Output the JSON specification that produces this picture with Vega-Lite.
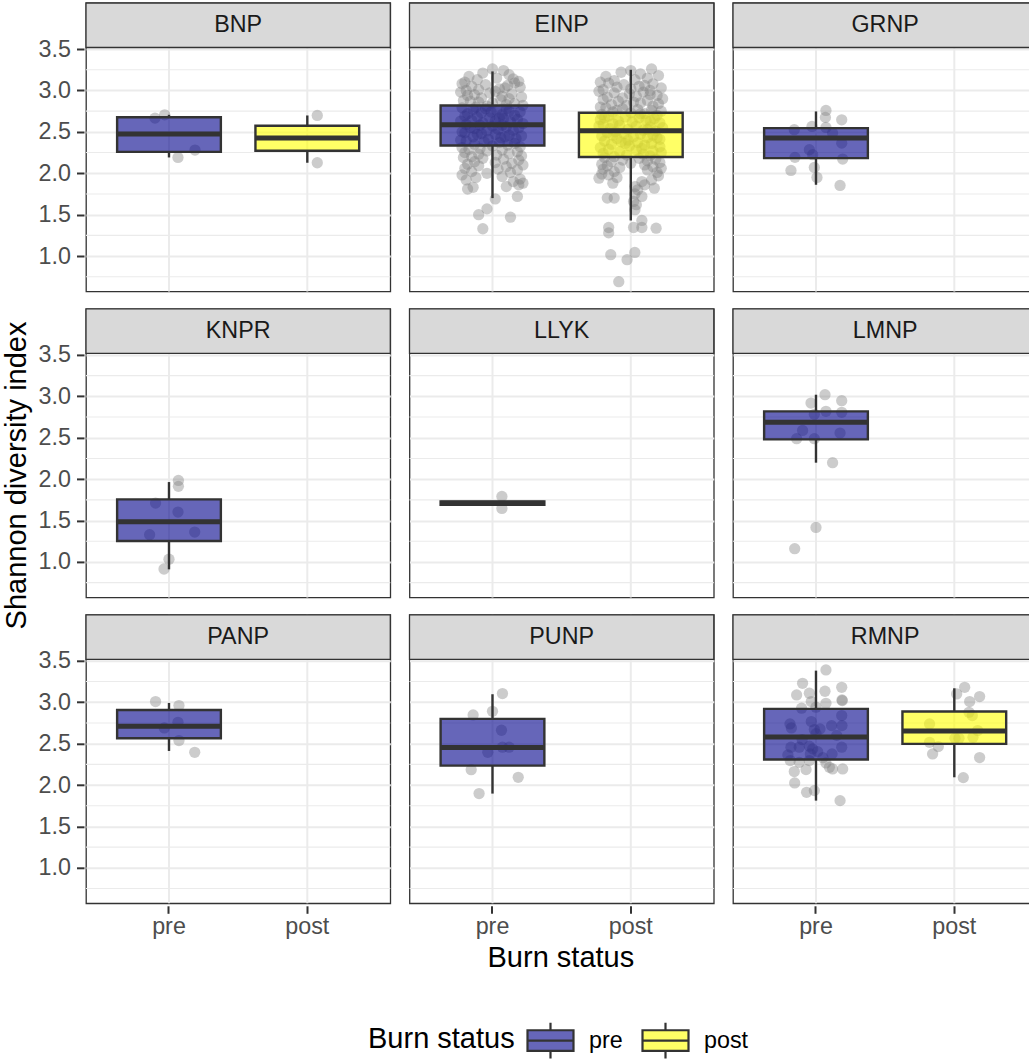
{
"$schema": "https://vega.github.io/schema/vega-lite/v6.json",
"background": "white",
"padding": {"left": 3, "top": 1, "right": 0, "bottom": 0},
"autosize": {"type": "pad"},
"config": {"font": "Liberation Sans"},
"data": {"values": [
{"p":"BNP","s":"pre","lo":2.191,"q1":2.258,"med":2.473,"q3":2.676,"hi":2.706},
{"p":"BNP","s":"post","lo":2.127,"q1":2.272,"med":2.425,"q3":2.574,"hi":2.698},
{"p":"EINP","s":"pre","lo":1.70,"q1":2.336,"med":2.586,"q3":2.819,"hi":3.23},
{"p":"EINP","s":"post","lo":1.43,"q1":2.196,"med":2.513,"q3":2.731,"hi":3.25},
{"p":"GRNP","s":"pre","lo":1.861,"q1":2.183,"med":2.425,"q3":2.545,"hi":2.747},
{"p":"KNPR","s":"pre","lo":0.911,"q1":1.253,"med":1.486,"q3":1.756,"hi":1.965},
{"p":"LLYK","s":"pre","lo":1.69,"q1":1.69,"med":1.71,"q3":1.73,"hi":1.73},
{"p":"LMNP","s":"pre","lo":2.199,"q1":2.481,"med":2.686,"q3":2.819,"hi":3.02},
{"p":"PANP","s":"pre","lo":2.412,"q1":2.565,"med":2.71,"q3":2.907,"hi":2.992},
{"p":"PUNP","s":"pre","lo":1.897,"q1":2.235,"med":2.453,"q3":2.799,"hi":3.097},
{"p":"RMNP","s":"pre","lo":1.812,"q1":2.308,"med":2.581,"q3":2.92,"hi":3.382},
{"p":"RMNP","s":"post","lo":2.094,"q1":2.497,"med":2.654,"q3":2.888,"hi":3.169},
{"p":"BNP","s":"pre","v":2.666,"j":-0.101},{"p":"BNP","s":"pre","v":2.706,"j":-0.031},{"p":"BNP","s":"pre","v":2.191,"j":0.065},{"p":"BNP","s":"pre","v":2.28,"j":0.188},
{"p":"BNP","s":"post","v":2.698,"j":0.072},{"p":"BNP","s":"post","v":2.127,"j":0.072},
{"p":"GRNP","s":"pre","v":2.759,"j":0.072},{"p":"GRNP","s":"pre","v":2.675,"j":0.068},{"p":"GRNP","s":"pre","v":2.646,"j":0.186},{"p":"GRNP","s":"pre","v":2.526,"j":-0.157},{"p":"GRNP","s":"pre","v":2.566,"j":-0.029},{"p":"GRNP","s":"pre","v":2.554,"j":0.072},{"p":"GRNP","s":"pre","v":2.485,"j":0.12},{"p":"GRNP","s":"pre","v":2.364,"j":0.186},{"p":"GRNP","s":"pre","v":2.284,"j":-0.048},{"p":"GRNP","s":"pre","v":2.224,"j":-0.024},{"p":"GRNP","s":"pre","v":2.192,"j":-0.152},{"p":"GRNP","s":"pre","v":2.172,"j":0.193},{"p":"GRNP","s":"pre","v":2.034,"j":-0.181},{"p":"GRNP","s":"pre","v":2.07,"j":-0.012},{"p":"GRNP","s":"pre","v":1.95,"j":0.007},{"p":"GRNP","s":"pre","v":1.853,"j":0.174},
{"p":"KNPR","s":"pre","v":1.985,"j":0.068},{"p":"KNPR","s":"pre","v":1.913,"j":0.068},{"p":"KNPR","s":"pre","v":1.712,"j":-0.097},{"p":"KNPR","s":"pre","v":1.603,"j":0.065},{"p":"KNPR","s":"pre","v":1.329,"j":-0.14},{"p":"KNPR","s":"pre","v":1.361,"j":0.186},{"p":"KNPR","s":"pre","v":1.034,"j":0.0},{"p":"KNPR","s":"pre","v":0.915,"j":-0.036},
{"p":"LLYK","s":"pre","v":1.792,"j":0.068},{"p":"LLYK","s":"pre","v":1.646,"j":0.068},
{"p":"LMNP","s":"pre","v":3.02,"j":0.065},{"p":"LMNP","s":"pre","v":2.919,"j":-0.036},{"p":"LMNP","s":"pre","v":2.948,"j":0.186},{"p":"LMNP","s":"pre","v":2.819,"j":0.072},{"p":"LMNP","s":"pre","v":2.807,"j":0.186},{"p":"LMNP","s":"pre","v":2.783,"j":-0.012},{"p":"LMNP","s":"pre","v":2.589,"j":-0.097},{"p":"LMNP","s":"pre","v":2.557,"j":0.174},{"p":"LMNP","s":"pre","v":2.489,"j":-0.14},{"p":"LMNP","s":"pre","v":2.489,"j":-0.012},{"p":"LMNP","s":"pre","v":2.199,"j":0.12},{"p":"LMNP","s":"pre","v":1.417,"j":0.0},{"p":"LMNP","s":"pre","v":1.16,"j":-0.154},
{"p":"PANP","s":"pre","v":3.008,"j":-0.097},{"p":"PANP","s":"pre","v":2.96,"j":0.072},{"p":"PANP","s":"pre","v":2.758,"j":0.065},{"p":"PANP","s":"pre","v":2.69,"j":-0.034},{"p":"PANP","s":"pre","v":2.537,"j":0.072},{"p":"PANP","s":"pre","v":2.396,"j":0.186},
{"p":"PUNP","s":"pre","v":3.105,"j":0.072},{"p":"PUNP","s":"pre","v":2.847,"j":-0.14},{"p":"PUNP","s":"pre","v":2.891,"j":0.0},{"p":"PUNP","s":"pre","v":2.662,"j":0.065},{"p":"PUNP","s":"pre","v":2.457,"j":0.072},{"p":"PUNP","s":"pre","v":2.457,"j":0.12},{"p":"PUNP","s":"pre","v":2.396,"j":-0.034},{"p":"PUNP","s":"pre","v":2.186,"j":-0.154},{"p":"PUNP","s":"pre","v":2.094,"j":0.186},{"p":"PUNP","s":"pre","v":1.897,"j":-0.097},
{"p":"RMNP","s":"pre","v":3.39,"j":0.072},{"p":"RMNP","s":"pre","v":3.229,"j":-0.097},{"p":"RMNP","s":"pre","v":3.089,"j":-0.14},{"p":"RMNP","s":"pre","v":3.109,"j":-0.048},{"p":"RMNP","s":"pre","v":3.133,"j":0.065},{"p":"RMNP","s":"pre","v":3.181,"j":0.186},{"p":"RMNP","s":"pre","v":3.028,"j":0.188},{"p":"RMNP","s":"pre","v":3.02,"j":0.19},{"p":"RMNP","s":"pre","v":3.008,"j":-0.034},{"p":"RMNP","s":"pre","v":2.988,"j":0.072},{"p":"RMNP","s":"pre","v":2.928,"j":-0.104},{"p":"RMNP","s":"pre","v":2.94,"j":0.0},{"p":"RMNP","s":"pre","v":2.738,"j":-0.188},{"p":"RMNP","s":"pre","v":2.767,"j":-0.034},{"p":"RMNP","s":"pre","v":2.69,"j":-0.178},{"p":"RMNP","s":"pre","v":2.67,"j":-0.012},{"p":"RMNP","s":"pre","v":2.678,"j":0.029},{"p":"RMNP","s":"pre","v":2.718,"j":0.113},{"p":"RMNP","s":"pre","v":2.839,"j":0.186},{"p":"RMNP","s":"pre","v":2.718,"j":0.188},{"p":"RMNP","s":"pre","v":2.457,"j":-0.181},{"p":"RMNP","s":"pre","v":2.457,"j":-0.121},{"p":"RMNP","s":"pre","v":2.469,"j":-0.048},{"p":"RMNP","s":"pre","v":2.437,"j":-0.024},{"p":"RMNP","s":"pre","v":2.404,"j":0.012},{"p":"RMNP","s":"pre","v":2.457,"j":0.186},{"p":"RMNP","s":"pre","v":2.364,"j":-0.203},{"p":"RMNP","s":"pre","v":2.376,"j":-0.041},{"p":"RMNP","s":"pre","v":2.376,"j":0.116},{"p":"RMNP","s":"pre","v":2.296,"j":-0.186},{"p":"RMNP","s":"pre","v":2.275,"j":-0.121},{"p":"RMNP","s":"pre","v":2.296,"j":-0.048},{"p":"RMNP","s":"pre","v":2.267,"j":0.072},{"p":"RMNP","s":"pre","v":2.215,"j":0.097},{"p":"RMNP","s":"pre","v":2.195,"j":0.12},{"p":"RMNP","s":"pre","v":2.195,"j":0.193},{"p":"RMNP","s":"pre","v":2.163,"j":-0.157},{"p":"RMNP","s":"pre","v":2.187,"j":-0.072},{"p":"RMNP","s":"pre","v":2.026,"j":-0.154},{"p":"RMNP","s":"pre","v":1.913,"j":-0.068},{"p":"RMNP","s":"pre","v":1.933,"j":-0.012},{"p":"RMNP","s":"pre","v":1.812,"j":0.174},{"p":"RMNP","s":"pre","v":2.62,"j":0.0},{"p":"RMNP","s":"pre","v":2.55,"j":-0.1},{"p":"RMNP","s":"pre","v":2.6,"j":0.15},{"p":"RMNP","s":"pre","v":2.33,"j":0.05},
{"p":"RMNP","s":"post","v":3.181,"j":0.075},{"p":"RMNP","s":"post","v":3.101,"j":0.017},{"p":"RMNP","s":"post","v":3.069,"j":0.183},{"p":"RMNP","s":"post","v":3.008,"j":0.111},{"p":"RMNP","s":"post","v":2.879,"j":0.106},{"p":"RMNP","s":"post","v":2.839,"j":0.13},{"p":"RMNP","s":"post","v":2.738,"j":-0.179},{"p":"RMNP","s":"post","v":2.658,"j":0.169},{"p":"RMNP","s":"post","v":2.565,"j":0.005},{"p":"RMNP","s":"post","v":2.565,"j":0.034},{"p":"RMNP","s":"post","v":2.577,"j":0.135},{"p":"RMNP","s":"post","v":2.517,"j":-0.179},{"p":"RMNP","s":"post","v":2.465,"j":-0.116},{"p":"RMNP","s":"post","v":2.376,"j":-0.157},{"p":"RMNP","s":"post","v":2.332,"j":0.183},{"p":"RMNP","s":"post","v":2.09,"j":0.065},
{"p":"EINP","s":"pre","v":3.26,"j":0.0},{"p":"EINP","s":"pre","v":3.24,"j":0.08},{"p":"EINP","s":"pre","v":3.17,"j":-0.17},{"p":"EINP","s":"pre","v":3.21,"j":-0.07},{"p":"EINP","s":"pre","v":3.11,"j":0.19},{"p":"EINP","s":"pre","v":3.15,"j":0.03},{"p":"EINP","s":"pre","v":3.19,"j":0.12},{"p":"EINP","s":"pre","v":3.13,"j":-0.11},{"p":"EINP","s":"pre","v":3.10,"j":-0.2},{"p":"EINP","s":"pre","v":3.14,"j":0.15},
{"p":"EINP","s":"pre","v":3.08,"j":-0.22},{"p":"EINP","s":"pre","v":3.05,"j":-0.15},{"p":"EINP","s":"pre","v":3.07,"j":-0.05},{"p":"EINP","s":"pre","v":3.02,"j":0.05},{"p":"EINP","s":"pre","v":3.06,"j":0.11},{"p":"EINP","s":"pre","v":3.04,"j":0.2},{"p":"EINP","s":"pre","v":3.01,"j":-0.1},{"p":"EINP","s":"pre","v":3.09,"j":0.16},{"p":"EINP","s":"pre","v":3.03,"j":0.09},{"p":"EINP","s":"pre","v":3.0,"j":-0.19},
{"p":"EINP","s":"pre","v":2.98,"j":-0.23},{"p":"EINP","s":"pre","v":2.95,"j":-0.13},{"p":"EINP","s":"pre","v":2.97,"j":-0.02},{"p":"EINP","s":"pre","v":2.93,"j":0.07},{"p":"EINP","s":"pre","v":2.96,"j":0.14},{"p":"EINP","s":"pre","v":2.92,"j":0.21},{"p":"EINP","s":"pre","v":2.99,"j":0.02},{"p":"EINP","s":"pre","v":2.91,"j":-0.08},{"p":"EINP","s":"pre","v":2.94,"j":-0.18},{"p":"EINP","s":"pre","v":2.9,"j":0.12},
{"p":"EINP","s":"pre","v":2.88,"j":-0.21},{"p":"EINP","s":"pre","v":2.86,"j":-0.1},{"p":"EINP","s":"pre","v":2.85,"j":0.0},{"p":"EINP","s":"pre","v":2.89,"j":0.06},{"p":"EINP","s":"pre","v":2.84,"j":0.16},{"p":"EINP","s":"pre","v":2.82,"j":0.22},{"p":"EINP","s":"pre","v":2.87,"j":-0.16},{"p":"EINP","s":"pre","v":2.81,"j":-0.04},{"p":"EINP","s":"pre","v":2.83,"j":0.1},{"p":"EINP","s":"pre","v":2.8,"j":-0.12},
{"p":"EINP","s":"pre","v":2.79,"j":-0.22},{"p":"EINP","s":"pre","v":2.77,"j":-0.14},{"p":"EINP","s":"pre","v":2.78,"j":-0.05},{"p":"EINP","s":"pre","v":2.76,"j":0.03},{"p":"EINP","s":"pre","v":2.75,"j":0.12},{"p":"EINP","s":"pre","v":2.74,"j":0.2},{"p":"EINP","s":"pre","v":2.72,"j":-0.18},{"p":"EINP","s":"pre","v":2.73,"j":-0.08},{"p":"EINP","s":"pre","v":2.71,"j":0.07},{"p":"EINP","s":"pre","v":2.7,"j":0.16},{"p":"EINP","s":"pre","v":2.78,"j":0.1},{"p":"EINP","s":"pre","v":2.74,"j":-0.01},
{"p":"EINP","s":"pre","v":2.69,"j":-0.2},{"p":"EINP","s":"pre","v":2.68,"j":-0.11},{"p":"EINP","s":"pre","v":2.67,"j":-0.02},{"p":"EINP","s":"pre","v":2.66,"j":0.08},{"p":"EINP","s":"pre","v":2.65,"j":0.18},{"p":"EINP","s":"pre","v":2.64,"j":-0.15},{"p":"EINP","s":"pre","v":2.63,"j":0.02},{"p":"EINP","s":"pre","v":2.62,"j":0.13},{"p":"EINP","s":"pre","v":2.61,"j":-0.07},{"p":"EINP","s":"pre","v":2.6,"j":0.22},{"p":"EINP","s":"pre","v":2.67,"j":0.05},{"p":"EINP","s":"pre","v":2.63,"j":-0.23},
{"p":"EINP","s":"pre","v":2.59,"j":-0.19},{"p":"EINP","s":"pre","v":2.58,"j":-0.09},{"p":"EINP","s":"pre","v":2.57,"j":0.0},{"p":"EINP","s":"pre","v":2.56,"j":0.1},{"p":"EINP","s":"pre","v":2.55,"j":0.19},{"p":"EINP","s":"pre","v":2.54,"j":-0.13},{"p":"EINP","s":"pre","v":2.53,"j":0.04},{"p":"EINP","s":"pre","v":2.52,"j":0.15},{"p":"EINP","s":"pre","v":2.51,"j":-0.04},{"p":"EINP","s":"pre","v":2.5,"j":-0.22},{"p":"EINP","s":"pre","v":2.58,"j":0.07},{"p":"EINP","s":"pre","v":2.55,"j":-0.16},
{"p":"EINP","s":"pre","v":2.49,"j":-0.2},{"p":"EINP","s":"pre","v":2.48,"j":-0.08},{"p":"EINP","s":"pre","v":2.47,"j":0.02},{"p":"EINP","s":"pre","v":2.46,"j":0.12},{"p":"EINP","s":"pre","v":2.45,"j":0.21},{"p":"EINP","s":"pre","v":2.44,"j":-0.14},{"p":"EINP","s":"pre","v":2.43,"j":0.06},{"p":"EINP","s":"pre","v":2.42,"j":0.17},{"p":"EINP","s":"pre","v":2.41,"j":-0.03},{"p":"EINP","s":"pre","v":2.4,"j":-0.23},{"p":"EINP","s":"pre","v":2.47,"j":-0.11},{"p":"EINP","s":"pre","v":2.44,"j":0.09},
{"p":"EINP","s":"pre","v":2.39,"j":-0.19},{"p":"EINP","s":"pre","v":2.38,"j":-0.06},{"p":"EINP","s":"pre","v":2.37,"j":0.05},{"p":"EINP","s":"pre","v":2.36,"j":0.16},{"p":"EINP","s":"pre","v":2.35,"j":-0.13},{"p":"EINP","s":"pre","v":2.34,"j":0.11},{"p":"EINP","s":"pre","v":2.33,"j":0.0},{"p":"EINP","s":"pre","v":2.32,"j":0.2},{"p":"EINP","s":"pre","v":2.31,"j":-0.22},{"p":"EINP","s":"pre","v":2.3,"j":-0.09},
{"p":"EINP","s":"pre","v":2.29,"j":-0.17},{"p":"EINP","s":"pre","v":2.28,"j":0.07},{"p":"EINP","s":"pre","v":2.27,"j":-0.04},{"p":"EINP","s":"pre","v":2.26,"j":0.18},{"p":"EINP","s":"pre","v":2.25,"j":-0.2},{"p":"EINP","s":"pre","v":2.24,"j":0.12},{"p":"EINP","s":"pre","v":2.23,"j":-0.1},{"p":"EINP","s":"pre","v":2.22,"j":0.03},{"p":"EINP","s":"pre","v":2.21,"j":0.21},{"p":"EINP","s":"pre","v":2.2,"j":-0.15},
{"p":"EINP","s":"pre","v":2.19,"j":-0.21},{"p":"EINP","s":"pre","v":2.18,"j":-0.07},{"p":"EINP","s":"pre","v":2.17,"j":0.08},{"p":"EINP","s":"pre","v":2.16,"j":0.19},{"p":"EINP","s":"pre","v":2.14,"j":-0.13},{"p":"EINP","s":"pre","v":2.13,"j":0.02},{"p":"EINP","s":"pre","v":2.12,"j":0.14},{"p":"EINP","s":"pre","v":2.11,"j":-0.18},{"p":"EINP","s":"pre","v":2.1,"j":0.22},
{"p":"EINP","s":"pre","v":2.09,"j":-0.1},{"p":"EINP","s":"pre","v":2.08,"j":0.1},{"p":"EINP","s":"pre","v":2.06,"j":-0.2},{"p":"EINP","s":"pre","v":2.05,"j":0.04},{"p":"EINP","s":"pre","v":2.04,"j":0.18},{"p":"EINP","s":"pre","v":2.02,"j":-0.15},{"p":"EINP","s":"pre","v":2.01,"j":0.13},{"p":"EINP","s":"pre","v":2.0,"j":-0.04},
{"p":"EINP","s":"pre","v":1.98,"j":-0.22},{"p":"EINP","s":"pre","v":1.96,"j":0.07},{"p":"EINP","s":"pre","v":1.95,"j":-0.12},{"p":"EINP","s":"pre","v":1.93,"j":0.2},{"p":"EINP","s":"pre","v":1.92,"j":-0.19},{"p":"EINP","s":"pre","v":1.9,"j":0.15},
{"p":"EINP","s":"pre","v":1.88,"j":0.22},{"p":"EINP","s":"pre","v":1.86,"j":0.19},{"p":"EINP","s":"pre","v":1.84,"j":0.1},{"p":"EINP","s":"pre","v":1.81,"j":-0.18},{"p":"EINP","s":"pre","v":1.83,"j":-0.14},
{"p":"EINP","s":"pre","v":1.72,"j":0.18},{"p":"EINP","s":"pre","v":1.69,"j":0.02},{"p":"EINP","s":"pre","v":1.5,"j":-0.1},{"p":"EINP","s":"pre","v":1.57,"j":-0.04},{"p":"EINP","s":"pre","v":1.47,"j":0.13},{"p":"EINP","s":"pre","v":1.33,"j":-0.07},
{"p":"EINP","s":"post","v":3.26,"j":0.15},{"p":"EINP","s":"post","v":3.22,"j":-0.07},{"p":"EINP","s":"post","v":3.2,"j":0.07},{"p":"EINP","s":"post","v":3.24,"j":0.0},{"p":"EINP","s":"post","v":3.17,"j":-0.18},{"p":"EINP","s":"post","v":3.15,"j":0.12},{"p":"EINP","s":"post","v":3.12,"j":-0.12},{"p":"EINP","s":"post","v":3.18,"j":0.2},{"p":"EINP","s":"post","v":3.13,"j":0.03},{"p":"EINP","s":"post","v":3.1,"j":-0.22},
{"p":"EINP","s":"post","v":3.09,"j":-0.16},{"p":"EINP","s":"post","v":3.07,"j":-0.05},{"p":"EINP","s":"post","v":3.05,"j":0.06},{"p":"EINP","s":"post","v":3.08,"j":0.16},{"p":"EINP","s":"post","v":3.03,"j":0.22},{"p":"EINP","s":"post","v":3.01,"j":-0.2},{"p":"EINP","s":"post","v":3.04,"j":-0.1},{"p":"EINP","s":"post","v":3.06,"j":0.1},{"p":"EINP","s":"post","v":3.02,"j":0.0},{"p":"EINP","s":"post","v":3.0,"j":0.14},
{"p":"EINP","s":"post","v":2.99,"j":-0.23},{"p":"EINP","s":"post","v":2.97,"j":-0.12},{"p":"EINP","s":"post","v":2.96,"j":-0.01},{"p":"EINP","s":"post","v":2.98,"j":0.09},{"p":"EINP","s":"post","v":2.94,"j":0.19},{"p":"EINP","s":"post","v":2.92,"j":-0.17},{"p":"EINP","s":"post","v":2.93,"j":0.04},{"p":"EINP","s":"post","v":2.95,"j":0.14},{"p":"EINP","s":"post","v":2.91,"j":-0.06},{"p":"EINP","s":"post","v":2.9,"j":0.23},
{"p":"EINP","s":"post","v":2.89,"j":-0.2},{"p":"EINP","s":"post","v":2.87,"j":-0.09},{"p":"EINP","s":"post","v":2.86,"j":0.02},{"p":"EINP","s":"post","v":2.88,"j":0.12},{"p":"EINP","s":"post","v":2.84,"j":0.2},{"p":"EINP","s":"post","v":2.83,"j":-0.14},{"p":"EINP","s":"post","v":2.85,"j":0.07},{"p":"EINP","s":"post","v":2.82,"j":-0.03},{"p":"EINP","s":"post","v":2.81,"j":0.16},{"p":"EINP","s":"post","v":2.8,"j":-0.22},
{"p":"EINP","s":"post","v":2.79,"j":-0.18},{"p":"EINP","s":"post","v":2.78,"j":-0.06},{"p":"EINP","s":"post","v":2.77,"j":0.05},{"p":"EINP","s":"post","v":2.76,"j":0.15},{"p":"EINP","s":"post","v":2.75,"j":0.22},{"p":"EINP","s":"post","v":2.74,"j":-0.13},{"p":"EINP","s":"post","v":2.73,"j":0.0},{"p":"EINP","s":"post","v":2.72,"j":0.1},{"p":"EINP","s":"post","v":2.71,"j":-0.21},{"p":"EINP","s":"post","v":2.7,"j":0.19},{"p":"EINP","s":"post","v":2.76,"j":-0.1},{"p":"EINP","s":"post","v":2.72,"j":0.07},
{"p":"EINP","s":"post","v":2.69,"j":-0.16},{"p":"EINP","s":"post","v":2.68,"j":-0.04},{"p":"EINP","s":"post","v":2.67,"j":0.06},{"p":"EINP","s":"post","v":2.66,"j":0.17},{"p":"EINP","s":"post","v":2.65,"j":-0.22},{"p":"EINP","s":"post","v":2.64,"j":0.11},{"p":"EINP","s":"post","v":2.63,"j":-0.09},{"p":"EINP","s":"post","v":2.62,"j":0.01},{"p":"EINP","s":"post","v":2.61,"j":0.21},{"p":"EINP","s":"post","v":2.6,"j":-0.13},{"p":"EINP","s":"post","v":2.67,"j":-0.19},{"p":"EINP","s":"post","v":2.63,"j":0.14},
{"p":"EINP","s":"post","v":2.59,"j":-0.2},{"p":"EINP","s":"post","v":2.58,"j":-0.08},{"p":"EINP","s":"post","v":2.57,"j":0.04},{"p":"EINP","s":"post","v":2.56,"j":0.14},{"p":"EINP","s":"post","v":2.55,"j":0.23},{"p":"EINP","s":"post","v":2.54,"j":-0.15},{"p":"EINP","s":"post","v":2.53,"j":-0.02},{"p":"EINP","s":"post","v":2.52,"j":0.09},{"p":"EINP","s":"post","v":2.51,"j":0.18},{"p":"EINP","s":"post","v":2.5,"j":-0.11},{"p":"EINP","s":"post","v":2.57,"j":-0.23},{"p":"EINP","s":"post","v":2.53,"j":0.12},
{"p":"EINP","s":"post","v":2.49,"j":-0.17},{"p":"EINP","s":"post","v":2.48,"j":-0.05},{"p":"EINP","s":"post","v":2.47,"j":0.07},{"p":"EINP","s":"post","v":2.46,"j":0.16},{"p":"EINP","s":"post","v":2.45,"j":-0.21},{"p":"EINP","s":"post","v":2.44,"j":0.02},{"p":"EINP","s":"post","v":2.43,"j":0.12},{"p":"EINP","s":"post","v":2.42,"j":-0.1},{"p":"EINP","s":"post","v":2.41,"j":0.21},{"p":"EINP","s":"post","v":2.4,"j":-0.02},{"p":"EINP","s":"post","v":2.46,"j":-0.13},{"p":"EINP","s":"post","v":2.43,"j":0.19},
{"p":"EINP","s":"post","v":2.39,"j":-0.19},{"p":"EINP","s":"post","v":2.38,"j":-0.07},{"p":"EINP","s":"post","v":2.37,"j":0.05},{"p":"EINP","s":"post","v":2.36,"j":0.15},{"p":"EINP","s":"post","v":2.35,"j":-0.14},{"p":"EINP","s":"post","v":2.34,"j":0.1},{"p":"EINP","s":"post","v":2.33,"j":-0.01},{"p":"EINP","s":"post","v":2.32,"j":0.21},{"p":"EINP","s":"post","v":2.31,"j":-0.22},{"p":"EINP","s":"post","v":2.3,"j":0.08},{"p":"EINP","s":"post","v":2.36,"j":-0.04},
{"p":"EINP","s":"post","v":2.29,"j":-0.16},{"p":"EINP","s":"post","v":2.28,"j":0.04},{"p":"EINP","s":"post","v":2.27,"j":0.16},{"p":"EINP","s":"post","v":2.26,"j":-0.08},{"p":"EINP","s":"post","v":2.25,"j":0.22},{"p":"EINP","s":"post","v":2.24,"j":-0.2},{"p":"EINP","s":"post","v":2.23,"j":0.09},{"p":"EINP","s":"post","v":2.22,"j":-0.03},{"p":"EINP","s":"post","v":2.21,"j":0.14},{"p":"EINP","s":"post","v":2.2,"j":-0.12},
{"p":"EINP","s":"post","v":2.19,"j":-0.19},{"p":"EINP","s":"post","v":2.18,"j":0.06},{"p":"EINP","s":"post","v":2.17,"j":0.18},{"p":"EINP","s":"post","v":2.16,"j":-0.06},{"p":"EINP","s":"post","v":2.15,"j":0.12},{"p":"EINP","s":"post","v":2.14,"j":-0.14},{"p":"EINP","s":"post","v":2.13,"j":0.21},{"p":"EINP","s":"post","v":2.12,"j":0.0},{"p":"EINP","s":"post","v":2.11,"j":-0.21},{"p":"EINP","s":"post","v":2.1,"j":0.1},
{"p":"EINP","s":"post","v":2.09,"j":-0.17},{"p":"EINP","s":"post","v":2.08,"j":0.16},{"p":"EINP","s":"post","v":2.07,"j":-0.08},{"p":"EINP","s":"post","v":2.06,"j":0.22},{"p":"EINP","s":"post","v":2.05,"j":-0.2},{"p":"EINP","s":"post","v":2.04,"j":0.12},{"p":"EINP","s":"post","v":2.02,"j":-0.12},{"p":"EINP","s":"post","v":2.01,"j":0.19},
{"p":"EINP","s":"post","v":1.99,"j":-0.21},{"p":"EINP","s":"post","v":1.98,"j":-0.16},{"p":"EINP","s":"post","v":1.97,"j":0.2},{"p":"EINP","s":"post","v":1.95,"j":-0.1},{"p":"EINP","s":"post","v":1.94,"j":-0.23},{"p":"EINP","s":"post","v":1.92,"j":0.15},{"p":"EINP","s":"post","v":1.9,"j":0.08},
{"p":"EINP","s":"post","v":1.88,"j":-0.13},{"p":"EINP","s":"post","v":1.86,"j":0.1},{"p":"EINP","s":"post","v":1.84,"j":0.03},{"p":"EINP","s":"post","v":1.82,"j":0.17},{"p":"EINP","s":"post","v":1.8,"j":0.05},
{"p":"EINP","s":"post","v":1.75,"j":0.03},{"p":"EINP","s":"post","v":1.72,"j":0.08},{"p":"EINP","s":"post","v":1.7,"j":-0.17},{"p":"EINP","s":"post","v":1.7,"j":-0.12},{"p":"EINP","s":"post","v":1.66,"j":0.02},{"p":"EINP","s":"post","v":1.62,"j":0.04},{"p":"EINP","s":"post","v":1.56,"j":0.03},
{"p":"EINP","s":"post","v":1.43,"j":0.08},{"p":"EINP","s":"post","v":1.345,"j":0.02},{"p":"EINP","s":"post","v":1.345,"j":0.08},{"p":"EINP","s":"post","v":1.337,"j":0.183},{"p":"EINP","s":"post","v":1.345,"j":-0.16},{"p":"EINP","s":"post","v":1.28,"j":-0.16},{"p":"EINP","s":"post","v":1.016,"j":-0.145},{"p":"EINP","s":"post","v":0.956,"j":-0.027},{"p":"EINP","s":"post","v":1.044,"j":0.029},{"p":"EINP","s":"post","v":0.69,"j":-0.087}
]},
"vconcat": [
{"title": {"text": "Burn status", "orient": "bottom", "anchor": "middle", "fontSize": 29, "fontWeight": "normal", "color": "#000000", "offset": 6, "dx": 40, "font": "Liberation Sans"},
 "vconcat": [
 {"title": {"text": "Shannon diversity index", "orient": "left", "anchor": "middle", "fontSize": 29, "fontWeight": "normal", "color": "#000000", "offset": 6, "dx": -6, "font": "Liberation Sans"},
  "spacing": 12.9,
  "vconcat": [
{"transform": [{"filter": {"field": "p", "oneOf": ["BNP","EINP","GRNP"]}}],
 "facet": {"column": {"field": "p", "type": "nominal", "sort": ["BNP","EINP","GRNP"], "header": null}},
 "spacing": 15.5,
 "spec": {"width": 304.3, "height": 288.5, "view": {"stroke": "#333333", "strokeWidth": 1.3},
  "resolve": {"scale": {"xOffset": "independent"}},
  "layer": [
   {"transform": [{"filter": "isValid(datum.med) && datum.s === 'pre'"}], "mark": {"type": "rule", "color": "#ebebeb", "strokeWidth": 1.1}, "encoding": {"y": {"datum": 0.75, "type": "quantitative", "title": null}}},
   {"transform": [{"filter": "isValid(datum.med) && datum.s === 'pre'"}], "mark": {"type": "rule", "color": "#ebebeb", "strokeWidth": 1.1}, "encoding": {"y": {"datum": 1.25, "type": "quantitative", "title": null}}},
   {"transform": [{"filter": "isValid(datum.med) && datum.s === 'pre'"}], "mark": {"type": "rule", "color": "#ebebeb", "strokeWidth": 1.1}, "encoding": {"y": {"datum": 1.75, "type": "quantitative", "title": null}}},
   {"transform": [{"filter": "isValid(datum.med) && datum.s === 'pre'"}], "mark": {"type": "rule", "color": "#ebebeb", "strokeWidth": 1.1}, "encoding": {"y": {"datum": 2.25, "type": "quantitative", "title": null}}},
   {"transform": [{"filter": "isValid(datum.med) && datum.s === 'pre'"}], "mark": {"type": "rule", "color": "#ebebeb", "strokeWidth": 1.1}, "encoding": {"y": {"datum": 2.75, "type": "quantitative", "title": null}}},
   {"transform": [{"filter": "isValid(datum.med) && datum.s === 'pre'"}], "mark": {"type": "rule", "color": "#ebebeb", "strokeWidth": 1.1}, "encoding": {"y": {"datum": 3.25, "type": "quantitative", "title": null}}},
   {"transform": [{"filter": "isValid(datum.med) && datum.s === 'pre'"}], "mark": {"type": "rule", "color": "#ebebeb", "strokeWidth": 2}, "encoding": {"x": {"datum": "pre", "type": "nominal", "axis": null}}},
   {"transform": [{"filter": "isValid(datum.med) && datum.s === 'pre'"}], "mark": {"type": "rule", "color": "#ebebeb", "strokeWidth": 2}, "encoding": {"x": {"datum": "post", "type": "nominal", "axis": null}}},
   {"transform": [{"filter": "isValid(datum.v)"}], "mark": {"type": "circle", "size": 127, "color": "#7f7f7f", "opacity": 0.4},
    "encoding": {
     "x": {"field": "s", "type": "nominal", "scale": {"domain": ["pre","post"], "paddingInner": 0, "paddingOuter": 0.1}, "axis": null},
     "xOffset": {"field": "j", "type": "quantitative", "scale": {"domain": [-0.5, 0.5]}},
     "y": {"field": "v", "type": "quantitative", "scale": {"domain": [0.572, 3.519], "nice": false, "zero": false, "range": [288.5, 44.5]}, "title": null,
       "axis": {"values": [1,1.5,2,2.5,3,3.5], "format": ".1f", "domain": false, "grid": true, "gridColor": "#ebebeb", "gridWidth": 2, "tickColor": "#333333", "tickWidth": 2, "tickSize": 7.5, "labelFontSize": 23.3, "labelColor": "#4d4d4d", "labelPadding": 6, "labelOverlap": false}}}},
   {"transform": [{"filter": "isValid(datum.med)"}], "mark": {"type": "rule", "color": "#333333", "strokeWidth": 2.4},
    "encoding": {"x": {"field": "s", "type": "nominal", "axis": null}, "y": {"field": "lo", "type": "quantitative", "title": null}, "y2": {"field": "q1"}}},
   {"transform": [{"filter": "isValid(datum.med)"}], "mark": {"type": "rule", "color": "#333333", "strokeWidth": 2.4},
    "encoding": {"x": {"field": "s", "type": "nominal", "axis": null}, "y": {"field": "q3", "type": "quantitative", "title": null}, "y2": {"field": "hi"}}},
   {"transform": [{"filter": "isValid(datum.med)"}], "mark": {"type": "bar", "width": {"band": 0.75}, "fillOpacity": 0.6, "stroke": "#333333", "strokeWidth": 2.4},
    "encoding": {"x": {"field": "s", "type": "nominal", "axis": null}, "y": {"field": "q1", "type": "quantitative", "title": null}, "y2": {"field": "q3"}, "fill": {"field": "s", "type": "nominal", "scale": {"range": ["#FFFF00","#00008B"]}, "legend": null}}},
   {"transform": [{"filter": "isValid(datum.med)"}], "mark": {"type": "bar", "width": {"band": 0.75}, "stroke": "#333333", "strokeWidth": 5},
    "encoding": {"x": {"field": "s", "type": "nominal", "axis": null}, "y": {"field": "med", "type": "quantitative", "title": null}, "y2": {"field": "med"},
     "color": {"field": "s", "type": "nominal", "scale": {"domain": ["pre","post"], "range": ["#6666B9","#FFFF66"]},
      "legend": {"title": "Burn status", "orient": "none", "legendX": 282, "legendY": 1013, "direction": "horizontal", "titleOrient": "left", "titleFontSize": 29, "titleFontWeight": "normal", "titleColor": "#000000", "titlePadding": 11, "labelFontSize": 23.3, "labelColor": "#000000", "labelOffset": 14, "columnPadding": 15, "symbolType": "M-1,-0.45H1V0.45H-1Z M-1,0H1 M0,-0.45V-0.78 M0,0.45V0.78", "symbolSize": 2116, "symbolStrokeColor": "#333333", "symbolStrokeWidth": 2.2}}}},
   {"transform": [{"filter": "isValid(datum.med) && datum.s === 'pre'"}], "mark": {"type": "rect", "fill": "#d9d9d9", "stroke": "#333333", "strokeWidth": 1.3},
    "encoding": {"x": {"value": 0}, "x2": {"value": "width"}, "y": {"value": 0}, "y2": {"value": 44.5}}},
   {"transform": [{"filter": "isValid(datum.med) && datum.s === 'pre'"}], "mark": {"type": "text", "fontSize": 23.3, "color": "#1a1a1a", "baseline": "middle", "align": "center"},
    "encoding": {"text": {"field": "p", "type": "nominal"}, "y": {"value": 22.25}}}
  ]}},
{"transform": [{"filter": {"field": "p", "oneOf": ["KNPR","LLYK","LMNP"]}}],
 "facet": {"column": {"field": "p", "type": "nominal", "sort": ["KNPR","LLYK","LMNP"], "header": null}},
 "spacing": 15.5,
 "spec": {"width": 304.3, "height": 288.5, "view": {"stroke": "#333333", "strokeWidth": 1.3},
  "resolve": {"scale": {"xOffset": "independent"}},
  "layer": [
   {"transform": [{"filter": "isValid(datum.med) && datum.s === 'pre'"}], "mark": {"type": "rule", "color": "#ebebeb", "strokeWidth": 1.1}, "encoding": {"y": {"datum": 0.75, "type": "quantitative", "title": null}}},
   {"transform": [{"filter": "isValid(datum.med) && datum.s === 'pre'"}], "mark": {"type": "rule", "color": "#ebebeb", "strokeWidth": 1.1}, "encoding": {"y": {"datum": 1.25, "type": "quantitative", "title": null}}},
   {"transform": [{"filter": "isValid(datum.med) && datum.s === 'pre'"}], "mark": {"type": "rule", "color": "#ebebeb", "strokeWidth": 1.1}, "encoding": {"y": {"datum": 1.75, "type": "quantitative", "title": null}}},
   {"transform": [{"filter": "isValid(datum.med) && datum.s === 'pre'"}], "mark": {"type": "rule", "color": "#ebebeb", "strokeWidth": 1.1}, "encoding": {"y": {"datum": 2.25, "type": "quantitative", "title": null}}},
   {"transform": [{"filter": "isValid(datum.med) && datum.s === 'pre'"}], "mark": {"type": "rule", "color": "#ebebeb", "strokeWidth": 1.1}, "encoding": {"y": {"datum": 2.75, "type": "quantitative", "title": null}}},
   {"transform": [{"filter": "isValid(datum.med) && datum.s === 'pre'"}], "mark": {"type": "rule", "color": "#ebebeb", "strokeWidth": 1.1}, "encoding": {"y": {"datum": 3.25, "type": "quantitative", "title": null}}},
   {"transform": [{"filter": "isValid(datum.med) && datum.s === 'pre'"}], "mark": {"type": "rule", "color": "#ebebeb", "strokeWidth": 2}, "encoding": {"x": {"datum": "pre", "type": "nominal", "axis": null}}},
   {"transform": [{"filter": "isValid(datum.med) && datum.s === 'pre'"}], "mark": {"type": "rule", "color": "#ebebeb", "strokeWidth": 2}, "encoding": {"x": {"datum": "post", "type": "nominal", "axis": null}}},
   {"transform": [{"filter": "isValid(datum.v)"}], "mark": {"type": "circle", "size": 127, "color": "#7f7f7f", "opacity": 0.4},
    "encoding": {
     "x": {"field": "s", "type": "nominal", "scale": {"domain": ["pre","post"], "paddingInner": 0, "paddingOuter": 0.1}, "axis": null},
     "xOffset": {"field": "j", "type": "quantitative", "scale": {"domain": [-0.5, 0.5]}},
     "y": {"field": "v", "type": "quantitative", "scale": {"domain": [0.572, 3.519], "nice": false, "zero": false, "range": [288.5, 44.5]}, "title": null,
       "axis": {"values": [1,1.5,2,2.5,3,3.5], "format": ".1f", "domain": false, "grid": true, "gridColor": "#ebebeb", "gridWidth": 2, "tickColor": "#333333", "tickWidth": 2, "tickSize": 7.5, "labelFontSize": 23.3, "labelColor": "#4d4d4d", "labelPadding": 6, "labelOverlap": false}}}},
   {"transform": [{"filter": "isValid(datum.med)"}], "mark": {"type": "rule", "color": "#333333", "strokeWidth": 2.4},
    "encoding": {"x": {"field": "s", "type": "nominal", "axis": null}, "y": {"field": "lo", "type": "quantitative", "title": null}, "y2": {"field": "q1"}}},
   {"transform": [{"filter": "isValid(datum.med)"}], "mark": {"type": "rule", "color": "#333333", "strokeWidth": 2.4},
    "encoding": {"x": {"field": "s", "type": "nominal", "axis": null}, "y": {"field": "q3", "type": "quantitative", "title": null}, "y2": {"field": "hi"}}},
   {"transform": [{"filter": "isValid(datum.med)"}], "mark": {"type": "bar", "width": {"band": 0.75}, "fillOpacity": 0.6, "stroke": "#333333", "strokeWidth": 2.4},
    "encoding": {"x": {"field": "s", "type": "nominal", "axis": null}, "y": {"field": "q1", "type": "quantitative", "title": null}, "y2": {"field": "q3"}, "fill": {"field": "s", "type": "nominal", "scale": {"range": ["#FFFF00","#00008B"]}, "legend": null}}},
   {"transform": [{"filter": "isValid(datum.med)"}], "mark": {"type": "bar", "width": {"band": 0.75}, "stroke": "#333333", "strokeWidth": 5},
    "encoding": {"x": {"field": "s", "type": "nominal", "axis": null}, "y": {"field": "med", "type": "quantitative", "title": null}, "y2": {"field": "med"},
     "color": {"field": "s", "type": "nominal", "scale": {"domain": ["pre","post"], "range": ["#6666B9","#FFFF66"]},
      "legend": {"title": "Burn status", "orient": "none", "legendX": 282, "legendY": 1013, "direction": "horizontal", "titleOrient": "left", "titleFontSize": 29, "titleFontWeight": "normal", "titleColor": "#000000", "titlePadding": 11, "labelFontSize": 23.3, "labelColor": "#000000", "labelOffset": 14, "columnPadding": 15, "symbolType": "M-1,-0.45H1V0.45H-1Z M-1,0H1 M0,-0.45V-0.78 M0,0.45V0.78", "symbolSize": 2116, "symbolStrokeColor": "#333333", "symbolStrokeWidth": 2.2}}}},
   {"transform": [{"filter": "isValid(datum.med) && datum.s === 'pre'"}], "mark": {"type": "rect", "fill": "#d9d9d9", "stroke": "#333333", "strokeWidth": 1.3},
    "encoding": {"x": {"value": 0}, "x2": {"value": "width"}, "y": {"value": 0}, "y2": {"value": 44.5}}},
   {"transform": [{"filter": "isValid(datum.med) && datum.s === 'pre'"}], "mark": {"type": "text", "fontSize": 23.3, "color": "#1a1a1a", "baseline": "middle", "align": "center"},
    "encoding": {"text": {"field": "p", "type": "nominal"}, "y": {"value": 22.25}}}
  ]}},
{"transform": [{"filter": {"field": "p", "oneOf": ["PANP","PUNP","RMNP"]}}],
 "facet": {"column": {"field": "p", "type": "nominal", "sort": ["PANP","PUNP","RMNP"], "header": null}},
 "spacing": 15.5,
 "spec": {"width": 304.3, "height": 288.5, "view": {"stroke": "#333333", "strokeWidth": 1.3},
  "resolve": {"scale": {"xOffset": "independent"}},
  "layer": [
   {"transform": [{"filter": "isValid(datum.med) && datum.s === 'pre'"}], "mark": {"type": "rule", "color": "#ebebeb", "strokeWidth": 1.1}, "encoding": {"y": {"datum": 0.75, "type": "quantitative", "title": null}}},
   {"transform": [{"filter": "isValid(datum.med) && datum.s === 'pre'"}], "mark": {"type": "rule", "color": "#ebebeb", "strokeWidth": 1.1}, "encoding": {"y": {"datum": 1.25, "type": "quantitative", "title": null}}},
   {"transform": [{"filter": "isValid(datum.med) && datum.s === 'pre'"}], "mark": {"type": "rule", "color": "#ebebeb", "strokeWidth": 1.1}, "encoding": {"y": {"datum": 1.75, "type": "quantitative", "title": null}}},
   {"transform": [{"filter": "isValid(datum.med) && datum.s === 'pre'"}], "mark": {"type": "rule", "color": "#ebebeb", "strokeWidth": 1.1}, "encoding": {"y": {"datum": 2.25, "type": "quantitative", "title": null}}},
   {"transform": [{"filter": "isValid(datum.med) && datum.s === 'pre'"}], "mark": {"type": "rule", "color": "#ebebeb", "strokeWidth": 1.1}, "encoding": {"y": {"datum": 2.75, "type": "quantitative", "title": null}}},
   {"transform": [{"filter": "isValid(datum.med) && datum.s === 'pre'"}], "mark": {"type": "rule", "color": "#ebebeb", "strokeWidth": 1.1}, "encoding": {"y": {"datum": 3.25, "type": "quantitative", "title": null}}},
   {"transform": [{"filter": "isValid(datum.med) && datum.s === 'pre'"}], "mark": {"type": "rule", "color": "#ebebeb", "strokeWidth": 2}, "encoding": {"x": {"datum": "pre", "type": "nominal", "title": null}}},
   {"transform": [{"filter": "isValid(datum.med) && datum.s === 'pre'"}], "mark": {"type": "rule", "color": "#ebebeb", "strokeWidth": 2}, "encoding": {"x": {"datum": "post", "type": "nominal", "title": null}}},
   {"transform": [{"filter": "isValid(datum.v)"}], "mark": {"type": "circle", "size": 127, "color": "#7f7f7f", "opacity": 0.4},
    "encoding": {
     "x": {"field": "s", "type": "nominal", "title": null, "scale": {"domain": ["pre","post"], "paddingInner": 0, "paddingOuter": 0.1},
       "axis": {"labels": true, "ticks": true, "domain": false, "grid": false, "tickColor": "#333333", "tickWidth": 2, "tickSize": 7.5, "labelFontSize": 23.3, "labelColor": "#4d4d4d", "labelPadding": 2, "labelAngle": 0, "labelAlign": "center", "labelBaseline": "top"}},
     "xOffset": {"field": "j", "type": "quantitative", "scale": {"domain": [-0.5, 0.5]}},
     "y": {"field": "v", "type": "quantitative", "scale": {"domain": [0.572, 3.519], "nice": false, "zero": false, "range": [288.5, 44.5]}, "title": null,
       "axis": {"values": [1,1.5,2,2.5,3,3.5], "format": ".1f", "domain": false, "grid": true, "gridColor": "#ebebeb", "gridWidth": 2, "tickColor": "#333333", "tickWidth": 2, "tickSize": 7.5, "labelFontSize": 23.3, "labelColor": "#4d4d4d", "labelPadding": 6, "labelOverlap": false}}}},
   {"transform": [{"filter": "isValid(datum.med)"}], "mark": {"type": "rule", "color": "#333333", "strokeWidth": 2.4},
    "encoding": {"x": {"field": "s", "type": "nominal", "title": null}, "y": {"field": "lo", "type": "quantitative", "title": null}, "y2": {"field": "q1"}}},
   {"transform": [{"filter": "isValid(datum.med)"}], "mark": {"type": "rule", "color": "#333333", "strokeWidth": 2.4},
    "encoding": {"x": {"field": "s", "type": "nominal", "title": null}, "y": {"field": "q3", "type": "quantitative", "title": null}, "y2": {"field": "hi"}}},
   {"transform": [{"filter": "isValid(datum.med)"}], "mark": {"type": "bar", "width": {"band": 0.75}, "fillOpacity": 0.6, "stroke": "#333333", "strokeWidth": 2.4},
    "encoding": {"x": {"field": "s", "type": "nominal", "title": null}, "y": {"field": "q1", "type": "quantitative", "title": null}, "y2": {"field": "q3"}, "fill": {"field": "s", "type": "nominal", "scale": {"range": ["#FFFF00","#00008B"]}, "legend": null}}},
   {"transform": [{"filter": "isValid(datum.med)"}], "mark": {"type": "bar", "width": {"band": 0.75}, "stroke": "#333333", "strokeWidth": 5},
    "encoding": {"x": {"field": "s", "type": "nominal", "title": null}, "y": {"field": "med", "type": "quantitative", "title": null}, "y2": {"field": "med"},
     "color": {"field": "s", "type": "nominal", "scale": {"domain": ["pre","post"], "range": ["#6666B9","#FFFF66"]},
      "legend": {"title": "Burn status", "orient": "none", "legendX": 282, "legendY": 1013, "direction": "horizontal", "titleOrient": "left", "titleFontSize": 29, "titleFontWeight": "normal", "titleColor": "#000000", "titlePadding": 11, "labelFontSize": 23.3, "labelColor": "#000000", "labelOffset": 14, "columnPadding": 15, "symbolType": "M-1,-0.45H1V0.45H-1Z M-1,0H1 M0,-0.45V-0.78 M0,0.45V0.78", "symbolSize": 2116, "symbolStrokeColor": "#333333", "symbolStrokeWidth": 2.2}}}},
   {"transform": [{"filter": "isValid(datum.med) && datum.s === 'pre'"}], "mark": {"type": "rect", "fill": "#d9d9d9", "stroke": "#333333", "strokeWidth": 1.3},
    "encoding": {"x": {"value": 0}, "x2": {"value": "width"}, "y": {"value": 0}, "y2": {"value": 44.5}}},
   {"transform": [{"filter": "isValid(datum.med) && datum.s === 'pre'"}], "mark": {"type": "text", "fontSize": 23.3, "color": "#1a1a1a", "baseline": "middle", "align": "center"},
    "encoding": {"text": {"field": "p", "type": "nominal"}, "y": {"value": 22.25}}}
  ]}}
  ]}
 ]}
]
}
